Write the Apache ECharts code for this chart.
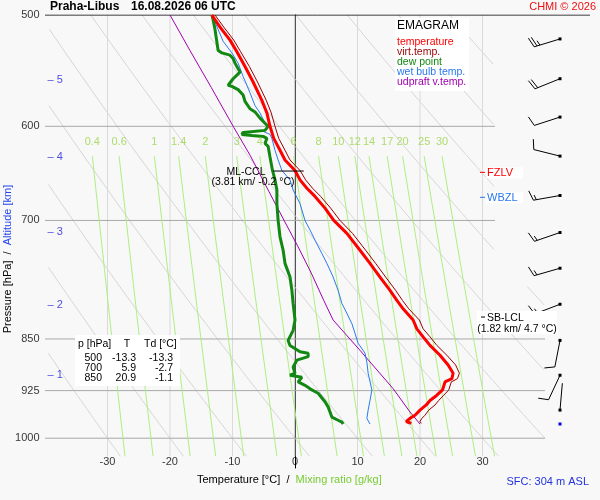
<!DOCTYPE html>
<html>
<head>
<meta charset="utf-8">
<script src="https://cdn.jsdelivr.net/npm/echarts@6/dist/echarts.min.js"></script>
<style>
html,body{margin:0;padding:0;background:#f8f8f8}
#chart{width:600px;height:500px}
</style>
</head>
<body>
<div id="chart"></div>
<script>
// sounding values
var tempP = [500,510,521,531,544,558,575,587,600,612,624,634,645,655,664,673,686,700,715,735,751,768,785,798,809,824,836,847,859,873,887,899,907,912,924,932,940,947,955,963,968,973,976];
var tempT = [-13.3,-12.0,-10.4,-9.3,-8.0,-6.7,-5.3,-4.5,-4.0,-3.4,-2.4,-1.6,0.0,0.8,1.9,3.2,4.8,6.2,8.3,10.4,12.0,13.6,15.2,16.3,17.3,18.9,19.5,20.5,21.6,23.2,24.5,25.3,25.1,24.0,23.6,22.7,21.6,21.0,20.0,19.2,18.4,17.8,18.6];
var virtT = [-12.8,-11.4,-9.8,-8.7,-7.3,-6.0,-4.6,-3.8,-3.2,-2.6,-1.6,-0.8,0.8,1.7,2.8,4.1,5.7,7.2,9.2,11.3,12.9,14.5,16.1,17.2,18.2,19.9,20.5,21.6,22.7,24.3,25.7,26.3,26.0,25.0,24.6,23.8,23.0,22.4,21.4,20.8,20.3,20.0,20.2];
var dewP = [500,504,512,530,532,534,537,541,549,555,561,562,565,570,576,583,586,592,597,600,604,606,608,609,610,612,617,620,631,645,655,666,681,700,719,735,751,768,785,802,824,838,852,859,868,870,875,880,890,899,902,905,912,917,924,929,942,950,958,966,971,974,977];
var dewT = [-13.3,-13.1,-12.8,-12.3,-11.7,-10.4,-9.9,-9.6,-8.8,-9.9,-10.7,-10.1,-9.1,-8.3,-8.0,-7.2,-6.4,-5.6,-4.8,-4.3,-4.8,-8.3,-8.5,-6.9,-5.1,-4.5,-4.8,-4.3,-4.0,-3.6,-3.2,-2.9,-2.9,-2.7,-2.4,-1.9,-1.6,-0.8,-0.5,-0.3,0.0,-0.3,-1.1,-0.8,0.8,2.1,2.1,0.3,-0.3,0.0,-0.8,1.1,0.5,1.6,2.7,3.7,4.8,5.3,5.6,5.9,6.9,7.5,7.7];
var wetP = [500,512,522,532,541,553,561,568,580,587,597,600,605,608,612,624,634,645,655,666,681,700,711,723,739,751,768,785,802,815,829,842,856,870,883,899,924,940,955,968,977];
var wetT = [-13.3,-12.3,-11.5,-10.1,-9.1,-8.3,-7.7,-7.2,-6.4,-5.6,-4.8,-4.3,-5.1,-4.0,-3.7,-3.2,-2.7,-2.1,-0.8,-0.3,0.8,1.6,2.4,3.2,4.3,5.1,6.1,6.9,7.5,8.3,9.1,9.6,10.1,11.2,11.5,11.7,12.3,12.0,11.7,11.5,12.0];
var parcelP = [977,958,922,866,824,798,763,731,702,666,629,601,563,530,500];
var parcelT = [20.0,18.4,15.7,10.4,6.1,4.6,2.6,0.5,-1.6,-4.3,-7.2,-9.8,-13.4,-16.8,-20.0];

var windP = [520,555,591,630,672,714,757,803,852,902,955,977];
var windDir = [253,248,252,284,260,251,254,249,191,205,5,0];
var windSpd = [25,20,10,10,15,15,15,15,10,10,2,0];

var pressureTicks = [500,600,700,850,925,1000];
var tempTicks = [-30,-20,-10,0,10,20,30];
var altKm = [1,2,3,4,5];
var altP = [902,804,713,631,556];
var mixRatios = [0.4,0.6,1,1.4,2,3,4,6,8,10,12,14,17,20,25,30];
var thetaC = [-30,-20,-10,0,10,20,30,40,50,60,70,80,90,100];
var tableRows = [['500','-13.3','-13.3'],['700','5.9','-2.7'],['850','20.9','-1.1']];

var FONT = 'Liberation Sans, Arial, sans-serif';
var C_T = '#ff0000', C_TV = '#990000', C_TD = '#118811', C_TW = '#2a78ee', C_PAR = '#a000b0';

function pts(ps, ts){ return ts.map(function(t,i){ return [t, ps[i]]; }); }

// background diagram lines
function adiabatSegs(th){
  var segs = [], cur = [];
  for (var p = 500; p <= 1030; p += 2){
    var t = (th + 273.15) * Math.pow(p / 1000, 0.2857) - 273.15;
    var right = p < 780 ? 32 : 40;
    if (t >= -39.5 && t <= right) cur.push([t, p]);
    else { if (cur.length > 1) segs.push(cur); cur = []; }
  }
  if (cur.length > 1) segs.push(cur);
  return segs;
}
function mixT(w, p){
  var e = w * p / (622 + w), l = Math.log(e / 6.112);
  return 243.5 * l / (17.67 - l);
}
var adiabatData = [];
thetaC.forEach(function(th){ adiabatSegs(th).forEach(function(s){ adiabatData.push({coords: s}); }); });
var mixData = mixRatios.map(function(w){
  var c = [];
  for (var p = 630; p <= 1030; p += 25) c.push([mixT(w, p), p]);
  return {coords: c};
});
var isoData = tempTicks.filter(function(t){ return t !== 0; }).map(function(t){ return {coords: [[t,500],[t,1030]]}; });
var isobarData = pressureTicks.slice(1).map(function(p){ return {coords: [[-40,p],[p < 800 ? 32 : 40, p]]}; });

function gl(color, data, z){
  return {type:'lines', coordinateSystem:'cartesian2d', polyline:true, silent:true, z:z||1,
    lineStyle:{color:color, width:1, opacity:1}, data:data};
}
function prof(name, data, color, width, z){
  return {name:name, type:'line', data:data, showSymbol:false, symbol:'none', z:z, silent:true,
    lineStyle:{color:color, width:width}};
}
function labels(data, pos, color, fmt, extra){
  var lab = {show:true, position:pos, color:color, fontSize:11, fontFamily:FONT, formatter:fmt};
  for (var k in (extra||{})) lab[k] = extra[k];
  return {type:'scatter', symbolSize:1, silent:true, z:6, itemStyle:{color:'rgba(0,0,0,0)'}, data:data, label:lab};
}

var chart = echarts.init(document.getElementById('chart'));
chart.setOption({
  animation:false,
  backgroundColor:'#f8f8f8',
  grid:{left:45, right:10, top:15, bottom:32},
  xAxis:{type:'value', min:-40, max:47.2, show:false},
  yAxis:{type:'log', min:500, max:1050, inverse:true,
    axisLine:{show:true, lineStyle:{color:'#000', width:1}},
    axisTick:{show:false}, axisLabel:{show:false}, splitLine:{show:false}},
  series:[
    gl('#d4d4d4', adiabatData, 1),
    gl('#dadada', isoData, 1),
    gl('#a6a6a6', [{coords:[[0,500],[0,1030]]}], 2),
    gl('#a8a8a8', isobarData, 2),
    gl('#adef82', mixData, 2),
    gl('#000000', [{coords:[[-40,500],[47.2,500]]}], 3),
    gl('#000000', [{coords:[[-3.5,645.6],[1.4,645.6]]}], 8),
    prof('parcel', pts(parcelP, parcelT), C_PAR, 1, 4),
    prof('wet bulb', pts(wetP, wetT), C_TW, 1, 4),
    prof('dew point', pts(dewP, dewT), C_TD, 3, 5),
    prof('virt', pts(tempP, virtT), C_TV, 1, 5),
    prof('temp', pts(tempP, tempT), C_T, 3, 5),
    labels(pressureTicks.map(function(p){ return [-40,p]; }), 'left', '#000', function(d){ return d.value[1]; }, {distance:5}),
    labels(tempTicks.map(function(t){ return [t,1040]; }), 'inside', '#000', function(d){ return d.value[0]; }),
    labels(altKm.map(function(k,i){ return [-40, altP[i], k]; }), 'right', '#2222dd', function(d){ return '\u2013 ' + d.value[2]; }, {distance:2}),
    labels(mixRatios.map(function(w){ return [mixT(w,630), 616, w]; }), 'inside', '#9ad64a', function(d){ return d.value[2]; }),
    {type:'custom', silent:true, z:7,
     data: windP.map(function(p,i){ return [0, p, windDir[i], windSpd[i]]; }),
     renderItem:function(params, api){
       var cs = params.coordSys;
       var x0 = cs.x + cs.width - 30;
       var y0 = api.coord([0, api.value(1)])[1];
       var spd = api.value(3), ch = [];
       if (spd <= 0){
         ch.push({type:'rect', shape:{x:x0-1.5, y:y0-1.5, width:3, height:3}, style:{fill:'#0000ee'}});
         return {type:'group', children:ch};
       }
       var a = api.value(2) * Math.PI / 180;
       var dx = Math.sin(a), dy = -Math.cos(a), nx = -dy, ny = dx, L = 27;
       var tx = x0 + dx*L, ty = y0 + dy*L;
       ch.push({type:'line', shape:{x1:x0, y1:y0, x2:tx, y2:ty}, style:{stroke:'#000', lineWidth:1}});
       var full = Math.floor(spd/10), half = (spd % 10) >= 5 ? 1 : 0;
       for (var k = 0; k < full + half; k++){
         var bx = tx - dx*k*3, by = ty - dy*k*3, len = k < full ? 10 : 5;
         ch.push({type:'line', shape:{x1:bx, y1:by, x2:bx + nx*len + dx*len*0.3, y2:by + ny*len + dy*len*0.3},
           style:{stroke:'#000', lineWidth:1}});
       }
       ch.push({type:'rect', shape:{x:x0-1.5, y:y0-1.5, width:3, height:3}, style:{fill:'#000'}});
       return {type:'group', children:ch};
     }}
  ]
});

// text blocks and annotations
function tx(x, y, text, o){
  o = o || {};
  return {type:'text', x:x, y:y, z:20, silent:true, style:{text:text, fill:o.fill||'#000', fontSize:o.size||11,
    fontFamily:FONT, fontWeight:o.bold?'bold':'normal', textAlign:o.align||'left', textVerticalAlign:'middle'}};
}
function rc(x, y, w, h){ return {type:'rect', z:15, silent:true, shape:{x:x,y:y,width:w,height:h}, style:{fill:'#ffffff'}}; }
function py(p){ return chart.convertToPixel({gridIndex:0}, [0, p])[1]; }
function hl(x1, x2, y, c){ return {type:'line', z:20, silent:true, shape:{x1:x1,y1:y,x2:x2,y2:y}, style:{stroke:c, lineWidth:1}}; }

var g = [];
g.push(tx(50, 7, 'Praha-Libus', {bold:true, size:12}));
g.push(tx(131, 7, '16.08.2026 06 UTC', {bold:true, size:12}));
g.push(tx(596, 7, 'CHMI \u00a9 2026', {fill:'#ee1111', align:'right'}));
g.push({type:'text', x:8, y:259, rotation:Math.PI/2, z:20, silent:true, style:{
  text:'{a|Pressure [hPa]  /  }{b|Altitude [km]}', textAlign:'center', textVerticalAlign:'middle',
  rich:{a:{fill:'#000', fontSize:11, fontFamily:FONT}, b:{fill:'#2244ee', fontSize:11, fontFamily:FONT}}}});
g.push({type:'text', x:197, y:480, z:20, silent:true, style:{
  text:'{a|Temperature [\u00b0C]  /  }{b|Mixing ratio [g/kg]}', textAlign:'left', textVerticalAlign:'middle',
  rich:{a:{fill:'#000', fontSize:11, fontFamily:FONT}, b:{fill:'#77cc33', fontSize:11, fontFamily:FONT}}}});
g.push(tx(589, 482, 'SFC: 304 m ASL', {fill:'#2233dd', align:'right'}));

// legend box
g.push(rc(395, 18, 74, 73));
g.push(tx(397, 26, 'EMAGRAM', {size:12}));
[['temperature',C_T],['virt.temp.',C_TV],['dew point',C_TD],['wet bulb temp.',C_TW],['udpraft v.temp.',C_PAR]].forEach(function(it,i){
  g.push(tx(397, 42 + i*10, it[0], {fill:it[1], size:10.5}));
});

// value table
g.push(rc(75, 335, 105, 51));
g.push(tx(78, 344, 'p [hPa]', {size:10.5}));
g.push(tx(127, 344, 'T', {size:10.5, align:'center'}));
g.push(tx(144, 344, 'Td [\u00b0C]', {size:10.5}));
tableRows.forEach(function(r,i){
  var y = 358 + i*10.3;
  g.push(tx(102, y, r[0], {size:10.5, align:'right'}));
  g.push(tx(136, y, r[1], {size:10.5, align:'right'}));
  g.push(tx(173, y, r[2], {size:10.5, align:'right'}));
});

// level marks
var yC = py(645.6);
g.push(tx(246, yC + 1, 'ML-CCL', {size:10.5, align:'center'}));
g.push(tx(253, yC + 11, '(3.81 km/ -0.2 \u00b0C)', {size:10.5, align:'center'}));
var yF = py(647), yW = py(674), yL = py(820);
g.push(rc(486, yF - 5, 37, 11)); g.push(hl(480, 485, yF, C_T)); g.push(tx(487, yF + 1, 'FZLV', {fill:C_T}));
g.push(rc(486, yW - 5, 37, 11)); g.push(hl(480, 485, yW, C_TW)); g.push(tx(487, yW + 1, 'WBZL', {fill:C_TW}));
g.push(rc(477, yL - 6, 80, 23)); g.push(hl(481, 485, yL, '#000')); g.push(tx(487, yL + 1, 'SB-LCL', {size:10.5}));
g.push(tx(517, yL + 12, '(1.82 km/ 4.7 \u00b0C)', {size:10.5, align:'center'}));

chart.setOption({graphic:{elements:g}});
</script>
</body>
</html>
